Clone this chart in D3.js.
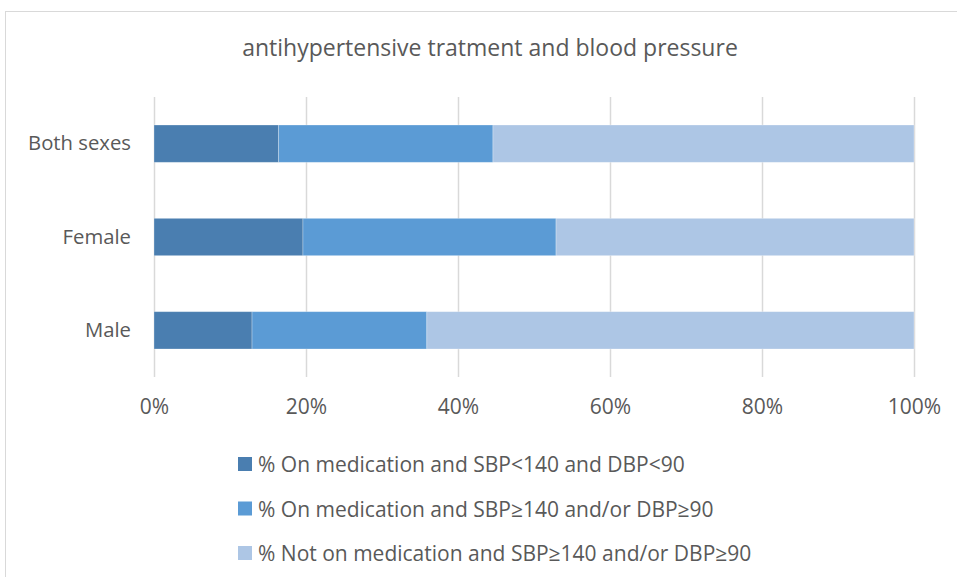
<!DOCTYPE html>
<html><head><meta charset="utf-8">
<script src="https://cdn.jsdelivr.net/npm/d3@7"></script>
<style>body{margin:0;background:#fff}svg{display:block}</style>
</head><body>
<svg id="c" width="957" height="577"></svg>
<script>
const categories = ["Both sexes", "Female", "Male"];
const seriesNames = [
  "% On medication and SBP<140 and DBP<90",
  "% On medication and SBP\u2265140 and/or DBP\u226590",
  "% Not on medication and SBP\u2265140 and/or DBP\u226590"
];
const controlled = [16.4, 19.6, 12.9];
const uncontrolled = [28.2, 33.3, 23.0];
const notMedicated = [55.4, 47.1, 64.1];
const tickValues = [0, 0.2, 0.4, 0.6, 0.8, 1.0];
const colors = ["#4A7EB0", "#5B9BD5", "#ADC6E5"];
const chartTitle = "antihypertensive tratment and blood pressure";

(function () {
const svg = d3.select("#c");
const font = "'Open Sans', sans-serif";
const textColor = "#595959";

// chart border
svg.append("rect").attr("x", 5.5).attr("y", 11.5).attr("width", 970).attr("height", 600)
  .attr("fill", "none").attr("stroke", "#d9d9d9").attr("stroke-width", 1);

const pLeft = 154, pRight = 914, pTop = 97, pBottom = 377;
const x = d3.scaleLinear().domain([0, 1]).range([pLeft, pRight]);
const y = d3.scaleBand().domain(categories).range([pTop, pBottom]).paddingInner(0.6).paddingOuter(0.3);

// gridlines
svg.append("g").selectAll("line").data(tickValues).join("line")
  .attr("x1", d => x(d) + 0.5).attr("x2", d => x(d) + 0.5)
  .attr("y1", pTop).attr("y2", pBottom)
  .attr("stroke", "#d9d9d9").attr("stroke-width", 1.5);

// stacked data
const rows = categories.map((c, i) => {
  const vals = [controlled[i], uncontrolled[i], notMedicated[i]];
  const tot = d3.sum(vals);
  return {cat: c, s0: vals[0] / tot, s1: vals[1] / tot, s2: vals[2] / tot};
});
const stack = d3.stack().keys(["s0", "s1", "s2"])(rows);

svg.append("g").selectAll("g").data(stack).join("g")
  .attr("fill", (d, i) => colors[i])
  .selectAll("rect").data(d => d).join("rect")
  .attr("x", d => x(d[0])).attr("width", d => x(d[1]) - x(d[0]))
  .attr("y", d => y(d.data.cat)).attr("height", y.bandwidth())
  .attr("stroke", "#ffffff").attr("stroke-opacity", 0.35).attr("stroke-width", 0.8);

// x axis tick labels
const xAxis = d3.axisBottom(x).tickValues(tickValues).tickFormat(d3.format(".0%")).tickSize(0).tickPadding(0);
const gx = svg.append("g").attr("transform", `translate(0,${pBottom + 22})`).call(xAxis);
gx.select(".domain").remove();
gx.selectAll("text").attr("font-family", font).attr("font-size", 21).attr("fill", textColor).attr("dy", "0.71em");

// y axis labels
const yAxis = d3.axisLeft(y).tickSize(0).tickPadding(0);
const gy = svg.append("g").attr("transform", `translate(131,0)`).call(yAxis);
gy.select(".domain").remove();
gy.selectAll("text").attr("font-family", font).attr("font-size", 20.3).attr("fill", textColor);

// title
svg.append("text").attr("x", 490).attr("y", 47).attr("text-anchor", "middle").attr("dominant-baseline", "central")
  .attr("font-family", font).attr("font-size", 23).attr("fill", textColor).text(chartTitle);

// legend
const legend = svg.append("g").selectAll("g").data(seriesNames).join("g")
  .attr("transform", (d, i) => `translate(238,${464 + i * 44.5})`);
legend.append("rect").attr("x", 0).attr("y", -7).attr("width", 14).attr("height", 14)
  .attr("fill", (d, i) => colors[i]);
legend.append("text").attr("x", 20).attr("y", 0).attr("dominant-baseline", "central")
  .attr("font-family", font).attr("font-size", 21).attr("fill", textColor).text(d => d);
})();
</script>
</body></html>
